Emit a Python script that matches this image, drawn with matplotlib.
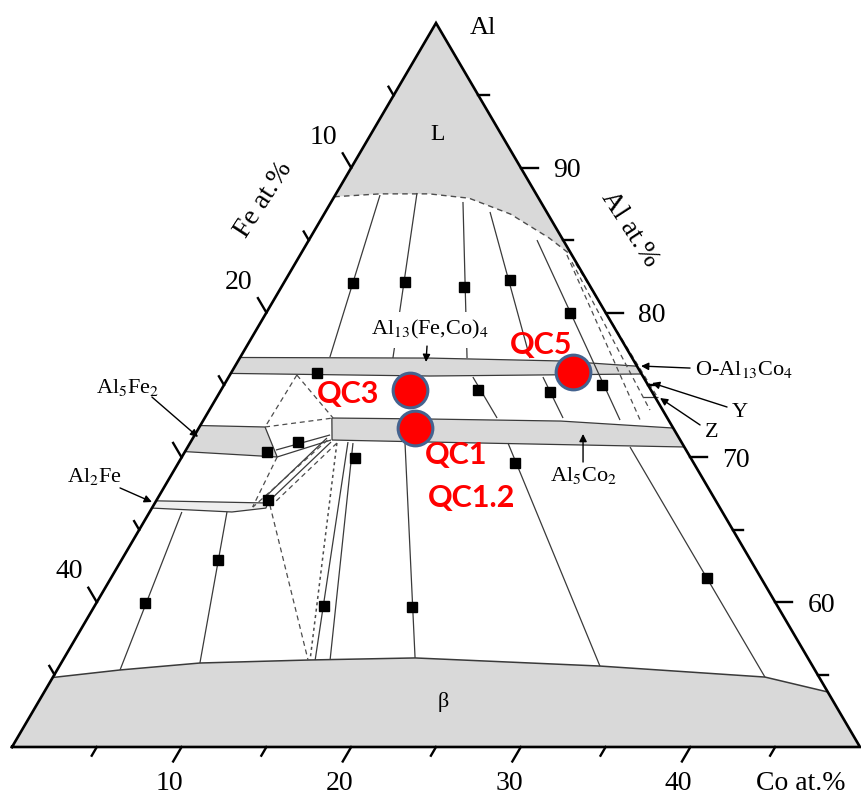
import numpy as np
import matplotlib
matplotlib.use("Agg")
import matplotlib.pyplot as plt
from matplotlib.patches import Polygon

plt.rcParams['font.family'] = ['Liberation Serif', 'DejaVu Serif']
plt.rcParams['mathtext.fontset'] = 'stix'

# ---------------------------------------------------------------------------
# Al-Co-Fe isothermal section, Al-rich corner (Al >= 50 at.%).
# All compositions are (Co at.%, Al at.%); Fe is the balance.
# ---------------------------------------------------------------------------

# liquid boundary (dashed)
liquidus_co = [0.0, 2.6, 5.5, 8.0, 11.0, 14.1, 16.1]
liquidus_al = [88.0, 88.2, 88.2, 87.9, 86.8, 85.15, 83.9]

# Al13(Fe,Co)4 band
al13_top_co = [0.0, 11.2, 19.0, 23.7]
al13_top_al = [76.9, 76.86, 76.66, 76.3]
al13_bot_co = [0.0, 11.8, 24.2]
al13_bot_al = [75.8, 75.62, 75.76]

# Al5Co2 band
al5co2_top_co = [7.5, 13.3, 21.1, 27.95]
al5co2_top_al = [72.72, 72.65, 72.51, 72.03]
al5co2_bot_co = [8.27, 14.12, 29.26]
al5co2_bot_al = [71.2, 71.06, 70.72]

# Al5Fe2 band
al5fe2_co = [0.0, 3.87, 5.62, 0.0]
al5fe2_al = [72.2, 72.1, 70.03, 70.4]

# Al2Fe band
al2fe_co = [0.0, 6.66, 6.72, 4.85, 0.0]
al2fe_al = [67.0, 66.85, 66.5, 66.23, 66.5]

# beta phase boundary
beta_co = [0.0, 3.71, 8.18, 14.57, 20.69, 31.87, 41.98, 46.2]
beta_al = [54.8, 55.32, 55.8, 56.01, 56.15, 55.59, 54.83, 53.8]

# tie lines: (Co1, Al1, Co2, Al2)
tie_solid = [
    (2.64, 88.12, 5.28, 76.93),
    (4.75, 88.26, 9.03, 76.86),
    (7.77, 87.64, 13.40, 76.86),
    (9.71, 86.95, 17.11, 76.86),
    (13.45, 85.01, 24.56, 72.58),
    (14.40, 75.55, 17.24, 72.72),
    (18.53, 75.55, 21.13, 72.72),
    (18.75, 70.99, 31.87, 55.59),
    (26.08, 70.72, 41.98, 54.83),
    (12.64, 71.06, 20.69, 56.15),
    (9.28, 71.06, 14.87, 56.01),
    (9.61, 70.99, 15.75, 56.01),
    (4.56, 66.23, 8.18, 55.80),
    (1.90, 66.23, 3.71, 55.32),
    (5.31, 70.51, 7.98, 71.55),
    (5.62, 70.03, 8.21, 71.20),
    (7.90, 71.34, 6.24, 67.13),
    (8.28, 71.06, 6.61, 66.85),
    (25.13, 74.17, 26.00, 74.17),
]
tie_dashed = [
    (6.85, 66.71, 14.45, 56.01),
    (3.95, 75.69, 3.87, 72.10),
    (3.95, 75.69, 7.57, 72.72),
    (3.87, 72.10, 7.57, 72.72),
    (5.62, 70.03, 5.90, 66.57),
    (8.00, 71.20, 5.92, 66.57),
    (8.66, 70.99, 6.97, 66.71),
    (15.73, 83.98, 25.87, 72.44),
    (16.27, 83.49, 25.98, 73.27),
    (16.57, 83.36, 26.04, 74.10),
]
tie_dotted = [
    (8.66, 70.99, 14.57, 56.01),
]

# experimental alloy compositions (black squares)
sample_co = [4.09, 7.11, 10.77, 13.23, 17.91, 5.07, 15.15, 19.46, 22.29,
             6.33, 4.86, 10.24, 6.56, 2.87, 5.69, 13.53, 18.74, 19.85, 35.14]
sample_al = [82.04, 82.11, 81.77, 82.25, 79.97, 75.83, 74.65, 74.52, 75.0,
             71.06, 70.37, 69.96, 67.06, 59.94, 62.91, 59.74, 59.67, 69.61, 61.67]

# quasicrystal alloys
qc_names = ['QC3', 'QC1', 'QC5']
qc_co = [11.14, 12.74, 20.13]
qc_al = [74.65, 72.03, 75.90]

# axis tick values
fe_ticks = [5, 10, 15, 20, 25, 30, 35, 40, 45]
fe_labels = [10, 20, 40]
al_ticks = [55, 60, 65, 70, 75, 80, 85, 90, 95]
al_labels = [60, 70, 80, 90]
co_ticks = [5, 10, 15, 20, 25, 30, 35, 40, 45]
co_labels = [10, 20, 30, 40]


def T(co, al):
    """Composition -> plot coordinates (x = Co + Al/2, y = Al)."""
    co = np.asarray(co, dtype=float)
    al = np.asarray(al, dtype=float)
    return co + al / 2.0, al


GREY = '#d9d9d9'
LINE = '#3a3a3a'
DASH = '#4d4d4d'

fig = plt.figure(figsize=(8.62, 8.05), dpi=100)
ax = fig.add_axes([0, 0, 1, 1])
ax.set_xlim(24.292, 75.118)
ax.set_ylim(45.994, 101.589)
ax.axis('off')


def fill(co, al, color=GREY, z=1):
    x, y = T(co, al)
    ax.add_patch(Polygon(np.column_stack([x, y]), closed=True,
                         facecolor=color, edgecolor='none', zorder=z))


def line(co, al, **kw):
    x, y = T(co, al)
    kw.setdefault('color', LINE)
    kw.setdefault('lw', 0.9)
    kw.setdefault('zorder', 2)
    ax.plot(x, y, solid_capstyle='butt', **kw)


# liquid field
fill(liquidus_co + [0.0], liquidus_al + [100.0])
line(liquidus_co, liquidus_al, color=DASH, ls=(0, (4, 3)), lw=1.0)

# Al13(Fe,Co)4 band
fill(al13_top_co + al13_bot_co[::-1], al13_top_al + al13_bot_al[::-1])
line(al13_top_co, al13_top_al)
line(al13_bot_co, al13_bot_al)

# Al5Co2 band
fill(al5co2_top_co + al5co2_bot_co[::-1], al5co2_top_al + al5co2_bot_al[::-1])
line(al5co2_top_co, al5co2_top_al)
line(al5co2_bot_co, al5co2_bot_al)
line([al5co2_top_co[0], al5co2_bot_co[0]], [al5co2_top_al[0], al5co2_bot_al[0]])

# Al5Fe2 band
fill(al5fe2_co, al5fe2_al)
line(al5fe2_co, al5fe2_al)

# Al2Fe band
fill(al2fe_co, al2fe_al, color='#eeeeee')
line(al2fe_co, al2fe_al)

# beta field
fill(beta_co + [50.0, 0.0], beta_al + [50.0, 50.0])
line(beta_co, beta_al, lw=1.1)

# tie lines
for c1, a1, c2, a2 in tie_solid:
    line([c1, c2], [a1, a2])
for c1, a1, c2, a2 in tie_dashed:
    line([c1, c2], [a1, a2], color=DASH, ls=(0, (4, 3)))
for c1, a1, c2, a2 in tie_dotted:
    line([c1, c2], [a1, a2], color=DASH, ls=(0, (2, 2.2)), lw=1.1)

# sample points
sx, sy = T(sample_co, sample_al)
ax.plot(sx, sy, 's', color='black', ms=6.5, zorder=4)

# triangle frame
fx, fy = T([0, 0, 50, 0], [50, 100, 50, 50])
ax.plot(fx, fy, color='black', lw=1.9, zorder=5, solid_joinstyle='miter')

# ticks
for f in fe_ticks:
    t = 1.0 if f % 10 == 0 else 0.6
    x, y = T([0, -t], [100 - f, 100 - f + t])
    ax.plot(x, y, color='black', lw=1.7, zorder=5)
for a in al_ticks:
    t = 1.0 if a % 10 == 0 else 0.6
    x, y = T([100 - a, 100 - a + t], [a, a])
    ax.plot(x, y, color='black', lw=1.7, zorder=5)
for c in co_ticks:
    t = 1.0 if c % 10 == 0 else 0.6
    x, y = T([c, c], [50, 50 - t])
    ax.plot(x, y, color='black', lw=1.7, zorder=5)

TK = 20
for f in fe_labels:
    x, y = T(0, 100 - f)
    ax.text(x - 1.65, y + 2.1, str(f), fontsize=TK, ha='center', va='center')
for a in al_labels:
    x, y = T(100 - a, a)
    ax.text(x + 1.9, y - 0.2, str(a), fontsize=TK, ha='left', va='center')
for c in co_labels:
    x, y = T(c, 50)
    ax.text(x - 0.7, 47.5, str(c), fontsize=TK, ha='center', va='center')

ax.text(71.5, 47.5, 'Co at.%', fontsize=TK, ha='center', va='center')
ax.text(39.86, 87.78, 'Fe at.%', fontsize=TK, ha='center', va='center', rotation=57)
ax.text(61.44, 85.77, 'Al at.%', fontsize=TK, ha='center', va='center', rotation=-57)
ax.text(52.77, 99.65, 'Al', fontsize=19, ha='center', va='center')
ax.text(50.12, 92.27, 'L', fontsize=17, ha='center', va='center')
ax.text(50.41, 53.11, 'β', fontsize=16, ha='center', va='center')

# phase labels
PL = 16
ax.text(49.65, 78.80, r'Al$_{13}$(Fe,Co)$_4$', fontsize=PL, ha='center', va='center',
        zorder=6, bbox=dict(facecolor='white', edgecolor='none', pad=5))
ax.text(31.84, 74.86, r'Al$_5$Fe$_2$', fontsize=PL, ha='center', va='center')
ax.text(29.89, 68.65, r'Al$_2$Fe', fontsize=PL, ha='center', va='center')
ax.text(58.73, 68.72, r'Al$_5$Co$_2$', fontsize=PL, ha='center', va='center')
ax.text(65.27, 76.10, r'O-Al$_{13}$Co$_4$', fontsize=PL, ha='left', va='center')
ax.text(67.92, 73.07, 'Y', fontsize=PL, ha='center', va='center')
ax.text(66.27, 71.75, 'Z', fontsize=PL, ha='center', va='center')

arrows = [
    ((49.47, 77.69), (49.41, 76.59)),
    ((33.25, 74.17), (35.97, 71.41)),
    ((31.37, 67.89), (33.25, 66.92)),
    ((58.67, 69.68), (58.67, 71.62)),
    ((64.98, 76.17), (62.09, 76.31)),
    ((67.16, 73.48), (62.74, 75.14)),
    ((65.57, 72.24), (63.21, 74.10)),
]
for start, tip in arrows:
    ax.annotate('', xy=tip, xytext=start, zorder=6,
                arrowprops=dict(arrowstyle='-|>', color='black', lw=1.0,
                                mutation_scale=11, shrinkA=0, shrinkB=0))

# quasicrystal alloys
qx, qy = T(qc_co, qc_al)
ax.plot(qx, qy, 'o', ms=25, mfc='#ff0000', mec='#44638f', mew=2.2, zorder=7)
qfont = dict(family=['Lato', 'DejaVu Sans'], weight='bold', fontsize=22,
             color='#ff0000', ha='center', va='center', zorder=8)
ax.text(44.81, 74.38, 'QC3', **qfont)
ax.text(56.19, 77.76, 'QC5', **qfont)
ax.text(51.18, 70.17, 'QC1', **qfont)
ax.text(52.12, 67.20, 'QC1.2', **qfont)

fig.savefig('out.png', dpi=100)
